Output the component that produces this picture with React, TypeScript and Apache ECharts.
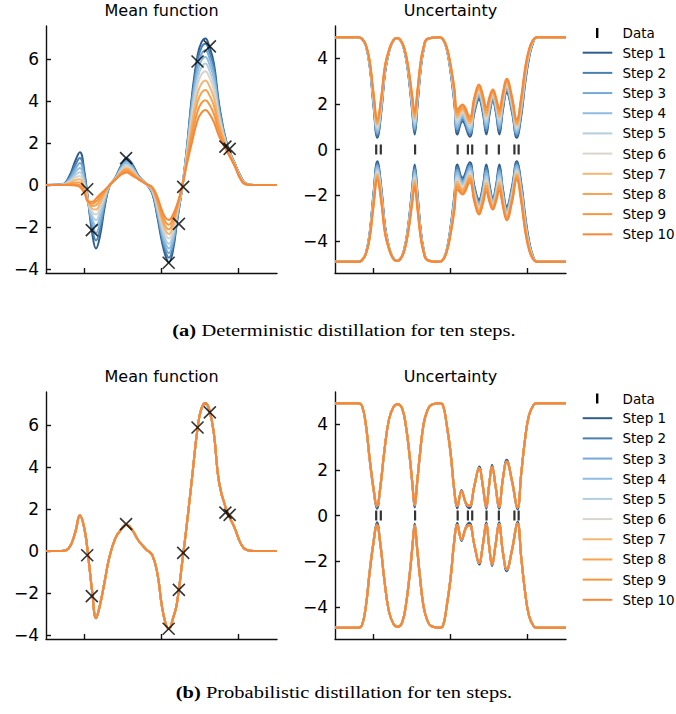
import React, { useEffect, useRef } from "react";
import * as echarts from "echarts";

// ---------- data ----------
const STEP_NAMES = ["Step 1", "Step 2", "Step 3", "Step 4", "Step 5", "Step 6", "Step 7", "Step 8", "Step 9", "Step 10"];
const STEP_COLORS = ["#2d5d8d", "#4a80b1", "#76a9d8", "#8dbde0", "#b2cedf", "#dad5cb", "#f2b777", "#f7a350", "#f79640", "#f6883a"];

const DATA_X = [-0.965, -0.905, -0.46, 0.093, 0.226, 0.282, 0.468, 0.628, 0.83, 0.885];
const DATA_Y = [-0.2, -2.15, 1.28, -3.7, -1.85, -0.09, 5.88, 6.6, 1.83, 1.72];

const MEAN_X = [-1.5, -1.3, -1.2, -1.12, -1.06, -1.0, -0.95, -0.9, -0.85, -0.8, -0.74, -0.68, -0.6, -0.52, -0.455, -0.38, -0.3, -0.2, -0.12, -0.05, 0.0, 0.05, 0.095, 0.15, 0.2, 0.27, 0.33, 0.4, 0.47, 0.52, 0.57, 0.62, 0.68, 0.75, 0.85, 0.95, 1.03, 1.1, 1.2, 1.5];

const DET_MEAN_1 = [0, 0.02, 0.4, 1.15, 1.56, 0.6, -0.85, -2.3, -3.02, -2.45, -1.1, -0.1, 0.35, 0.95, 1.27, 1.0, 0.45, 0.05, -0.4, -1.6, -2.6, -3.35, -3.68, -3.1, -1.8, -0.1, 1.8, 4.4, 6.2, 6.8, 6.98, 6.6, 5.8, 3.8, 1.95, 1.05, 0.4, 0.06, 0, 0];
const DET_MEAN_2 = [0, 0.02, 0.34, 0.96, 1.29, 0.44, -0.84, -2.06, -2.64, -2.13, -0.96, -0.09, 0.34, 0.90, 1.20, 0.94, 0.43, 0.05, -0.37, -1.49, -2.44, -3.15, -3.46, -2.91, -1.71, -0.09, 1.74, 4.23, 5.96, 6.55, 6.72, 6.36, 5.59, 3.69, 1.92, 1.04, 0.39, 0.06, 0, 0];
const DET_MEAN_3 = [0, 0.01, 0.28, 0.78, 1.05, 0.29, -0.83, -1.84, -2.29, -1.83, -0.84, -0.08, 0.33, 0.85, 1.12, 0.88, 0.41, 0.05, -0.33, -1.38, -2.28, -2.95, -3.24, -2.73, -1.61, -0.09, 1.67, 4.02, 5.69, 6.25, 6.42, 6.08, 5.34, 3.55, 1.89, 1.03, 0.38, 0.05, 0, 0];
const DET_MEAN_4 = [0, 0.01, 0.22, 0.62, 0.81, 0.15, -0.83, -1.63, -1.95, -1.55, -0.72, -0.06, 0.32, 0.80, 1.05, 0.82, 0.39, 0.05, -0.30, -1.27, -2.12, -2.76, -3.02, -2.54, -1.52, -0.08, 1.59, 3.81, 5.40, 5.94, 6.10, 5.77, 5.08, 3.41, 1.86, 1.01, 0.36, 0.05, 0, 0];
const DET_MEAN_5 = [0, 0.01, 0.17, 0.48, 0.61, 0.03, -0.82, -1.45, -1.67, -1.31, -0.62, -0.05, 0.31, 0.75, 0.97, 0.76, 0.37, 0.05, -0.27, -1.16, -1.96, -2.56, -2.80, -2.35, -1.43, -0.08, 1.52, 3.59, 5.11, 5.62, 5.78, 5.47, 4.81, 3.27, 1.83, 1.00, 0.35, 0.05, 0, 0];
const DET_MEAN_6 = [0, 0.01, 0.13, 0.35, 0.43, -0.08, -0.82, -1.28, -1.41, -1.09, -0.52, -0.05, 0.29, 0.70, 0.89, 0.69, 0.35, 0.05, -0.23, -1.04, -1.79, -2.34, -2.55, -2.15, -1.32, -0.07, 1.43, 3.35, 4.78, 5.27, 5.42, 5.14, 4.52, 3.11, 1.79, 0.98, 0.33, 0.04, 0, 0];
const DET_MEAN_7 = [0, 0, 0.09, 0.23, 0.27, -0.18, -0.81, -1.13, -1.17, -0.89, -0.44, -0.04, 0.28, 0.65, 0.81, 0.63, 0.33, 0.05, -0.20, -0.93, -1.63, -2.14, -2.33, -1.96, -1.23, -0.07, 1.33, 3.05, 4.38, 4.83, 4.98, 4.72, 4.16, 2.92, 1.75, 0.96, 0.31, 0.04, 0, 0];
const DET_MEAN_8 = [0, 0, 0.05, 0.12, 0.12, -0.27, -0.81, -1.00, -0.96, -0.71, -0.36, -0.03, 0.27, 0.60, 0.74, 0.57, 0.31, 0.05, -0.17, -0.82, -1.47, -1.95, -2.11, -1.77, -1.14, -0.06, 1.22, 2.74, 3.97, 4.39, 4.52, 4.29, 3.78, 2.72, 1.70, 0.94, 0.29, 0.03, 0, 0];
const DET_MEAN_9 = [0, 0, 0.02, 0.04, 0.00, -0.34, -0.80, -0.89, -0.79, -0.57, -0.30, -0.03, 0.26, 0.55, 0.67, 0.51, 0.29, 0.05, -0.13, -0.71, -1.31, -1.75, -1.89, -1.59, -1.04, -0.06, 1.11, 2.42, 3.53, 3.91, 4.04, 3.84, 3.39, 2.51, 1.65, 0.92, 0.27, 0.03, 0, 0];
const DET_MEAN_10 = [0, 0, 0, -0.03, -0.1, -0.4, -0.8, -0.8, -0.65, -0.45, -0.25, -0.02, 0.25, 0.5, 0.59, 0.45, 0.27, 0.05, -0.1, -0.6, -1.15, -1.55, -1.67, -1.4, -0.95, -0.05, 1.0, 2.1, 3.1, 3.45, 3.57, 3.4, 3.0, 2.3, 1.6, 0.9, 0.25, 0.02, 0, 0];
const DET_MEANS = [DET_MEAN_1, DET_MEAN_2, DET_MEAN_3, DET_MEAN_4, DET_MEAN_5, DET_MEAN_6, DET_MEAN_7, DET_MEAN_8, DET_MEAN_9, DET_MEAN_10];

const UNC_X = [-1.5, -1.2, -1.15, -1.1, -1.05, -1.0, -0.95, -0.9, -0.85, -0.8, -0.75, -0.7, -0.65, -0.6, -0.55, -0.5, -0.465, -0.43, -0.39, -0.35, -0.3, -0.15, -0.1, -0.05, 0.0, 0.05, 0.09, 0.155, 0.25, 0.31, 0.37, 0.42, 0.465, 0.51, 0.55, 0.59, 0.635, 0.68, 0.73, 0.8, 0.86, 0.92, 0.97, 1.02, 1.07, 1.12, 1.5];

const DET_UNC_1 = [4.92, 4.92, 4.85, 4.55, 3.65, 1.9, 0.52, 1.6, 3.35, 4.25, 4.72, 4.87, 4.78, 4.35, 3.35, 1.75, 0.66, 1.85, 3.4, 4.35, 4.82, 4.92, 4.83, 4.4, 3.4, 2.0, 0.66, 1.24, 0.56, 1.6, 2.19, 1.6, 0.66, 1.6, 2.12, 1.6, 0.66, 1.7, 2.49, 1.6, 0.51, 1.5, 2.9, 4.0, 4.65, 4.9, 4.92];
const DET_UNC_2 = [4.92, 4.92, 4.85, 4.56, 3.68, 1.97, 0.61, 1.68, 3.39, 4.26, 4.72, 4.87, 4.78, 4.36, 3.38, 1.83, 0.77, 1.93, 3.44, 4.37, 4.82, 4.92, 4.83, 4.41, 3.44, 2.08, 0.78, 1.32, 0.66, 1.68, 2.26, 1.69, 0.79, 1.68, 2.18, 1.68, 0.79, 1.79, 2.56, 1.68, 0.60, 1.59, 2.98, 4.04, 4.67, 4.90, 4.92];
const DET_UNC_3 = [4.92, 4.92, 4.85, 4.56, 3.71, 2.03, 0.70, 1.75, 3.43, 4.27, 4.73, 4.87, 4.78, 4.37, 3.42, 1.90, 0.88, 2.02, 3.49, 4.38, 4.83, 4.92, 4.83, 4.42, 3.48, 2.15, 0.90, 1.40, 0.75, 1.75, 2.34, 1.78, 0.92, 1.77, 2.23, 1.75, 0.91, 1.88, 2.62, 1.75, 0.69, 1.69, 3.05, 4.09, 4.68, 4.90, 4.92];
const DET_UNC_4 = [4.92, 4.92, 4.85, 4.57, 3.73, 2.10, 0.79, 1.83, 3.47, 4.28, 4.73, 4.87, 4.79, 4.38, 3.45, 1.98, 1.00, 2.10, 3.53, 4.40, 4.83, 4.92, 4.84, 4.43, 3.52, 2.23, 1.02, 1.48, 0.85, 1.83, 2.41, 1.86, 1.05, 1.85, 2.29, 1.83, 1.04, 1.96, 2.69, 1.83, 0.78, 1.78, 3.13, 4.13, 4.70, 4.91, 4.92];
const DET_UNC_5 = [4.92, 4.92, 4.85, 4.57, 3.76, 2.16, 0.89, 1.91, 3.50, 4.29, 4.73, 4.87, 4.79, 4.39, 3.48, 2.06, 1.11, 2.18, 3.58, 4.42, 4.83, 4.92, 4.84, 4.44, 3.55, 2.31, 1.14, 1.56, 0.94, 1.91, 2.48, 1.95, 1.18, 1.93, 2.34, 1.91, 1.16, 2.05, 2.76, 1.91, 0.87, 1.87, 3.21, 4.18, 4.72, 4.91, 4.92];
const DET_UNC_6 = [4.92, 4.92, 4.85, 4.58, 3.79, 2.24, 0.99, 1.99, 3.55, 4.31, 4.74, 4.88, 4.79, 4.41, 3.52, 2.14, 1.23, 2.27, 3.62, 4.43, 4.84, 4.92, 4.84, 4.46, 3.60, 2.39, 1.27, 1.65, 1.05, 1.99, 2.56, 2.05, 1.33, 2.02, 2.41, 1.99, 1.30, 2.15, 2.83, 1.99, 0.96, 1.98, 3.29, 4.22, 4.73, 4.91, 4.92];
const DET_UNC_7 = [4.92, 4.92, 4.85, 4.58, 3.82, 2.30, 1.08, 2.07, 3.58, 4.32, 4.74, 4.88, 4.79, 4.42, 3.55, 2.22, 1.34, 2.35, 3.67, 4.45, 4.84, 4.92, 4.84, 4.47, 3.63, 2.47, 1.39, 1.73, 1.14, 2.07, 2.63, 2.14, 1.46, 2.10, 2.46, 2.07, 1.42, 2.24, 2.90, 2.07, 1.05, 2.07, 3.37, 4.27, 4.75, 4.91, 4.92];
const DET_UNC_8 = [4.92, 4.92, 4.85, 4.59, 3.85, 2.37, 1.17, 2.15, 3.62, 4.33, 4.74, 4.88, 4.80, 4.43, 3.58, 2.30, 1.46, 2.44, 3.71, 4.47, 4.84, 4.92, 4.85, 4.48, 3.67, 2.55, 1.51, 1.81, 1.24, 2.15, 2.71, 2.22, 1.59, 2.19, 2.52, 2.15, 1.55, 2.32, 2.97, 2.15, 1.14, 2.16, 3.45, 4.31, 4.77, 4.92, 4.92];
const DET_UNC_9 = [4.92, 4.92, 4.85, 4.59, 3.87, 2.43, 1.26, 2.22, 3.66, 4.34, 4.75, 4.88, 4.80, 4.44, 3.62, 2.37, 1.57, 2.52, 3.76, 4.48, 4.85, 4.92, 4.85, 4.49, 3.71, 2.62, 1.63, 1.89, 1.33, 2.22, 2.78, 2.31, 1.72, 2.27, 2.57, 2.22, 1.68, 2.41, 3.03, 2.22, 1.23, 2.26, 3.52, 4.36, 4.78, 4.92, 4.92];
const DET_UNC_10 = [4.92, 4.92, 4.85, 4.6, 3.9, 2.5, 1.35, 2.3, 3.7, 4.35, 4.75, 4.88, 4.8, 4.45, 3.65, 2.45, 1.68, 2.6, 3.8, 4.5, 4.85, 4.92, 4.85, 4.5, 3.75, 2.7, 1.75, 1.97, 1.43, 2.3, 2.85, 2.4, 1.85, 2.35, 2.63, 2.3, 1.8, 2.5, 3.1, 2.3, 1.32, 2.35, 3.6, 4.4, 4.8, 4.92, 4.92];
const DET_UNCS = [DET_UNC_1, DET_UNC_2, DET_UNC_3, DET_UNC_4, DET_UNC_5, DET_UNC_6, DET_UNC_7, DET_UNC_8, DET_UNC_9, DET_UNC_10];

const PROB_MEAN_1 = [0, 0, 0.15, 0.85, 1.65, 1.0, -0.35, -1.95, -3.12, -2.55, -1.45, -0.35, 0.6, 1.05, 1.25, 1.0, 0.5, 0.08, -0.2, -1.15, -2.5, -3.4, -3.7, -3.2, -2.5, -0.5, 1.3, 3.6, 5.9, 6.8, 7.0, 6.7, 5.6, 3.25, 1.9, 1.1, 0.35, 0.06, 0, 0];
const PROB_MEAN_LATER = [0, 0, 0.15, 0.9, 1.7, 1.05, -0.3, -1.95, -3.2, -2.6, -1.5, -0.35, 0.6, 1.05, 1.25, 1.0, 0.5, 0.08, -0.2, -1.15, -2.5, -3.4, -3.7, -3.2, -2.5, -0.5, 1.3, 3.6, 5.9, 6.8, 7.05, 6.75, 5.6, 3.2, 1.9, 1.1, 0.35, 0.06, 0, 0];

const PROB_UNC_X = [-1.5, -1.2, -1.15, -1.1, -1.05, -1.0, -0.955, -0.91, -0.86, -0.8, -0.74, -0.685, -0.63, -0.58, -0.53, -0.495, -0.465, -0.435, -0.4, -0.35, -0.3, -0.25, -0.15, -0.1, -0.05, 0.0, 0.05, 0.088, 0.143, 0.2, 0.245, 0.31, 0.373, 0.42, 0.465, 0.5, 0.54, 0.585, 0.63, 0.68, 0.73, 0.8, 0.87, 0.92, 0.97, 1.02, 1.08, 1.12, 1.5];
const PROB_UNC_1 = [4.92, 4.92, 4.8, 3.95, 2.4, 1.1, 0.3, 1.2, 2.75, 4.18, 4.75, 4.87, 4.7, 3.9, 2.5, 1.3, 0.35, 1.3, 2.5, 3.95, 4.6, 4.85, 4.92, 4.85, 3.95, 2.7, 1.0, 0.32, 1.12, 0.5, 0.32, 1.3, 2.15, 1.25, 0.3, 1.25, 2.22, 1.25, 0.3, 1.6, 2.44, 1.45, 0.27, 1.85, 3.35, 4.38, 4.85, 4.92, 4.92];
const PROB_UNC_LATER = [4.92, 4.92, 4.8, 4.0, 2.5, 1.2, 0.4, 1.3, 2.8, 4.2, 4.75, 4.87, 4.7, 3.95, 2.6, 1.4, 0.45, 1.4, 2.6, 4.0, 4.6, 4.85, 4.92, 4.85, 4.0, 2.8, 1.1, 0.42, 1.05, 0.55, 0.42, 1.3, 2.07, 1.3, 0.39, 1.3, 2.14, 1.3, 0.39, 1.6, 2.36, 1.5, 0.36, 1.9, 3.4, 4.4, 4.85, 4.92, 4.92];

const MEAN_TICKS = [-4, -2, 0, 2, 4, 6];
const UNC_TICKS = [-4, -2, 0, 2, 4];
const X_TICKS = [-1, 0, 1];
const TITLES = ["Mean function", "Uncertainty"];
const CAPTION_TAGS = ["(a)", "(b)"];
const CAPTIONS = [" Deterministic distillation for ten steps.", " Probabilistic distillation for ten steps."];

// ---------- layout ----------
const ROW_OFFSET = 366;
const LEFT_GRID = { left: 46, width: 231 };
const RIGHT_GRID = { left: 335, width: 231 };
const GRID_TOP = 26;
const GRID_H = 247;

const AXIS_COLOR = "#111";
const FONT = "DejaVu Sans";

const minusFmt = (v: number) => (v < 0 ? "\u2212" + Math.abs(v) : String(v));

function lineSeries(name: string, color: string, xs: number[], ys: number[], gi: number, sign: number) {
  return {
    type: "line",
    name,
    xAxisIndex: gi,
    yAxisIndex: gi,
    data: xs.map((x, i) => [x, sign * ys[i]]),
    showSymbol: false,
    symbol: "none",
    smooth: 0.45,
    lineStyle: { width: 2, color },
    itemStyle: { color },
    silent: true,
    z: 2,
  };
}

function buildOption() {
  const grids: any[] = [];
  const xAxes: any[] = [];
  const yAxes: any[] = [];
  for (let r = 0; r < 2; r++) {
    for (let c = 0; c < 2; c++) {
      const g = c === 0 ? LEFT_GRID : RIGHT_GRID;
      grids.push({ left: g.left, width: g.width, top: GRID_TOP + r * ROW_OFFSET, height: GRID_H, containLabel: false });
      const gi = grids.length - 1;
      xAxes.push({
        type: "value",
        gridIndex: gi,
        min: -1.5,
        max: 1.5,
        axisLine: { show: true, onZero: false, lineStyle: { color: AXIS_COLOR, width: 1.4 } },
        axisTick: { show: true, inside: true, length: 5, customValues: X_TICKS, lineStyle: { color: AXIS_COLOR, width: 1.4 } },
        axisLabel: { show: false },
        splitLine: { show: false },
      });
      const ticks = c === 0 ? MEAN_TICKS : UNC_TICKS;
      yAxes.push({
        type: "value",
        gridIndex: gi,
        min: c === 0 ? -4.19 : -5.41,
        max: c === 0 ? 7.57 : 5.41,
        axisLine: { show: true, onZero: false, lineStyle: { color: AXIS_COLOR, width: 1.4 } },
        axisTick: { show: true, inside: true, length: 5, customValues: ticks, lineStyle: { color: AXIS_COLOR, width: 1.4 } },
        axisLabel: { show: true, customValues: ticks, formatter: minusFmt, fontSize: 17, fontFamily: FONT, color: "#000", margin: 7 },
        splitLine: { show: false },
      });
    }
  }

  const series: any[] = [];
  for (let k = 0; k < 10; k++) {
    const col = STEP_COLORS[k];
    const nm = STEP_NAMES[k];
    series.push(lineSeries(nm, col, MEAN_X, DET_MEANS[k], 0, 1));
    series.push(lineSeries(nm, col, UNC_X, DET_UNCS[k], 1, 1));
    series.push(lineSeries(nm, col, UNC_X, DET_UNCS[k], 1, -1));
    const pm = k === 0 ? PROB_MEAN_1 : PROB_MEAN_LATER;
    const pu = k === 0 ? PROB_UNC_1 : PROB_UNC_LATER;
    series.push(lineSeries(nm, col, MEAN_X, pm, 2, 1));
    series.push(lineSeries(nm, col, PROB_UNC_X, pu, 3, 1));
    series.push(lineSeries(nm, col, PROB_UNC_X, pu, 3, -1));
  }
  for (const gi of [0, 2]) {
    series.push({
      type: "scatter",
      name: "Data",
      xAxisIndex: gi,
      yAxisIndex: gi,
      data: DATA_X.map((x, i) => [x, DATA_Y[i]]),
      symbol: "path://M0 0L10 10M10 0L0 10",
      symbolSize: 12,
      itemStyle: { color: "transparent", borderColor: "#000", borderWidth: 1.6 },
      silent: true,
      z: 4,
    });
  }
  for (const gi of [1, 3]) {
    series.push({
      type: "scatter",
      name: "Data",
      xAxisIndex: gi,
      yAxisIndex: gi,
      data: DATA_X.map((x) => [x, 0]),
      symbol: "rect",
      symbolSize: [2.2, 10],
      itemStyle: { color: "#000" },
      silent: true,
      z: 4,
    });
  }

  const graphic: any[] = [];
  for (let r = 0; r < 2; r++) {
    const oy = r * 365.5;
    const to = r * ROW_OFFSET;
    graphic.push({ type: "text", x: 161.5, y: 10 + to, style: { text: TITLES[0], font: `16px "${FONT}"`, fill: "#000", align: "center", verticalAlign: "middle" } });
    graphic.push({ type: "text", x: 450.5, y: 10 + to, style: { text: TITLES[1], font: `16px "${FONT}"`, fill: "#000", align: "center", verticalAlign: "middle" } });
    // legend
    graphic.push({ type: "rect", shape: { x: 596, y: 28 + oy, width: 2.4, height: 10 }, style: { fill: "#000" } });
    graphic.push({ type: "text", x: 622.5, y: 33 + oy, style: { text: "Data", font: `13.5px "${FONT}"`, fill: "#000", align: "left", verticalAlign: "middle" } });
    for (let k = 0; k < 10; k++) {
      const yy = 52.7 + k * 20.18 + oy;
      graphic.push({ type: "line", shape: { x1: 582.7, y1: yy, x2: 612.3, y2: yy }, style: { stroke: STEP_COLORS[k], lineWidth: 2 } });
      graphic.push({ type: "text", x: 622.5, y: yy, style: { text: STEP_NAMES[k], font: `13.5px "${FONT}"`, fill: "#000", align: "left", verticalAlign: "middle" } });
    }
    // caption
    graphic.push({
      type: "text",
      x: 344,
      y: 330 + r * 362,
      scaleX: 1.17,
      style: {
        text: `{b|${CAPTION_TAGS[r]}}${CAPTIONS[r]}`,
        font: `17.5px "Liberation Serif"`,
        fill: "#000",
        align: "center",
        verticalAlign: "middle",
        rich: { b: { fontWeight: "bold", fontSize: 17.5, fontFamily: "Liberation Serif", fill: "#000" } },
      },
    });
  }

  return {
    animation: false,
    backgroundColor: "#fff",
    grid: grids,
    xAxis: xAxes,
    yAxis: yAxes,
    series,
    graphic,
  };
}

export default function App() {
  const ref = useRef<HTMLDivElement>(null);
  useEffect(() => {
    if (!ref.current) return;
    const chart = echarts.init(ref.current, undefined, { renderer: "svg" });
    chart.setOption(buildOption() as any);
    return () => chart.dispose();
  }, []);
  return <div ref={ref} style={{ position: "fixed", left: 0, top: 0, width: 676, height: 714, background: "#fff" }} />;
}
